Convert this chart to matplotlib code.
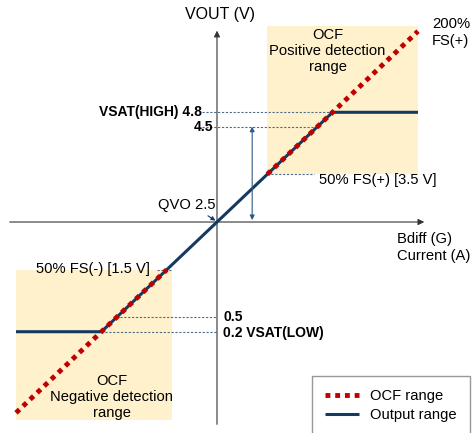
import matplotlib
matplotlib.use("Agg")
import matplotlib.pyplot as plt
from matplotlib.patches import Rectangle

plt.rcParams['font.family'] = ['Liberation Sans', 'DejaVu Sans']

# transfer characteristic, x in % of full scale, y in volts
qvo = 2.5
ocf_pos_x = [50, 200]
ocf_pos_y = [3.5, 6.5]
ocf_neg_x = [-200, -50]
ocf_neg_y = [-1.5, 1.5]
out_x = [-200, -115, 115, 200]
out_y = [0.2, 0.2, 4.8, 4.8]

# shaded OCF detection windows (x range, y range)
pos_win_x = [50, 200]
pos_win_y = [3.5, 6.6]
neg_win_x = [-200, -45]
neg_win_y = [-1.65, 1.5]

# dotted guides: (x start, x end, level)
guide_x0 = [-15, -15, 50, -60, -100, -115]
guide_x1 = [115, 97, 97, -45, 0, 0]
guide_v = [4.8, 4.5, 3.5, 1.5, 0.5, 0.2]

red = "#C00000"
navy = "#143A61"
shade = "#FFF1CC"
guide_col = "#4F6D8A"

fig = plt.figure(figsize=(4.74, 4.33), dpi=100)
ax = fig.add_axes([0, 0, 1, 1])
ax.set_xlim(-215.9, 255.7)
ax.set_ylim(-1.923, 7.154)
ax.axis('off')

ax.add_patch(Rectangle((pos_win_x[0], pos_win_y[0]), pos_win_x[1] - pos_win_x[0],
                       pos_win_y[1] - pos_win_y[0], color=shade, lw=0, zorder=0))
ax.add_patch(Rectangle((neg_win_x[0], neg_win_y[0]), neg_win_x[1] - neg_win_x[0],
                       neg_win_y[1] - neg_win_y[0], color=shade, lw=0, zorder=0))

# axes with arrows
ax.annotate('', xy=(209, qvo), xytext=(-209, qvo),
            arrowprops=dict(arrowstyle='-|>', color='#333333', lw=0.8, mutation_scale=9))
ax.annotate('', xy=(0, 6.57), xytext=(0, -1.80),
            arrowprops=dict(arrowstyle='-|>', color='#333333', lw=0.8, mutation_scale=9))

for x0, x1, v in zip(guide_x0, guide_x1, guide_v):
    ax.plot([x0, x1], [v, v], color=guide_col, lw=0.8, ls=(0, (2, 1.5)), zorder=1)

out_line, = ax.plot(out_x, out_y, color=navy, lw=2.2, zorder=3, solid_capstyle='butt')
ocf_line, = ax.plot(ocf_pos_x, ocf_pos_y, color=red, lw=3.5, ls=(0, (1, 1)),
                    dash_capstyle='butt', zorder=4)
ax.plot(ocf_neg_x, ocf_neg_y, color=red, lw=3.5, ls=(0, (1, 1)),
        dash_capstyle='butt', zorder=4)

# span arrow 2.5 -> 4.5
ax.annotate('', xy=(35, 4.5), xytext=(35, 2.54),
            arrowprops=dict(arrowstyle='<|-|>', color='#2E5A87', lw=0.8, mutation_scale=7,
                            shrinkA=0, shrinkB=0))
# QVO pointer
ax.annotate('', xy=(-1.5, 2.53), xytext=(-9, 2.63),
            arrowprops=dict(arrowstyle='-|>', color=navy, lw=0.8, mutation_scale=6,
                            shrinkA=0, shrinkB=0))

fs = 10.6
bfs = 10
ax.text(3, 6.84, "VOUT (V)", fontsize=11.5, ha='center', va='center')
ax.text(110, 6.085, "OCF\nPositive detection\nrange", fontsize=fs, ha='center',
        va='center', linespacing=1.15)
ax.text(214, 6.47, "200%\nFS(+)", fontsize=fs, ha='left', va='center', linespacing=1.25)
ax.text(-15, 4.8, "VSAT(HIGH) 4.8", fontsize=bfs, fontweight='bold', ha='right', va='center')
ax.text(-4, 4.5, "4.5", fontsize=bfs, fontweight='bold', ha='right', va='center')
ax.text(101.5, 3.38, "50% FS(+) [3.5 V]", fontsize=fs, ha='left', va='center')
ax.text(-1, 2.86, "QVO 2.5", fontsize=fs, ha='right', va='center')
ax.text(179, 1.965, "Bdiff (G)\nCurrent (A)", fontsize=fs, ha='left', va='center',
        linespacing=1.25)
ax.text(-66.5, 1.52, "50% FS(-) [1.5 V]", fontsize=fs, ha='right', va='center')
ax.text(6, 0.5, "0.5", fontsize=bfs, fontweight='bold', ha='left', va='center')
ax.text(6, 0.17, "0.2 VSAT(LOW)", fontsize=bfs, fontweight='bold', ha='left', va='center')
ax.text(-104.5, -1.17, "OCF\nNegative detection\nrange", fontsize=fs, ha='center',
        va='center', linespacing=1.15)

leg = ax.legend([ocf_line, out_line], ["OCF range", "Output range"], loc='upper left',
                bbox_to_anchor=(312 / 474, 1 - 376 / 433), fontsize=fs, frameon=True,
                fancybox=False, handlelength=2.3, handletextpad=0.75, labelspacing=0.35,
                borderpad=0.9, borderaxespad=0)
leg.get_frame().set_edgecolor('#7F7F7F')
leg.get_frame().set_linewidth(1.0)

fig.savefig("out.png", dpi=100)
